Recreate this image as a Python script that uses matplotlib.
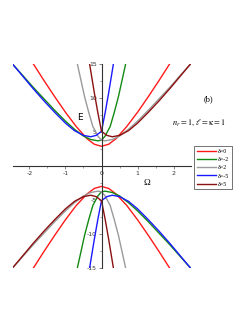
import matplotlib

matplotlib.use("Agg")
import matplotlib.pyplot as plt
from matplotlib.ticker import MultipleLocator

plt.rcParams["axes.unicode_minus"] = False
plt.rcParams["mathtext.fontset"] = "stix"

# upper (positive) and lower (negative) energy branches E(Omega)
labels = ["δ=0", "δ=-2", "δ=2", "δ=-5", "δ=5"]
colors = ["#ff1a1a", "#138a13", "#9a9a9a", "#1a1aff", "#8b1010"]

red_up_w = [-1.89, -1.6, -1.3, -1.0, -0.7, -0.4, -0.2, 0.0, 0.2, 0.4, 0.7, 1.0, 1.3, 1.6, 1.89]
red_up_e = [15.0, 12.6, 10.2, 7.9, 5.8, 4.0, 3.2, 2.9, 3.2, 4.0, 5.8, 7.9, 10.2, 12.6, 15.0]
red_lo_w = [-1.89, -1.6, -1.3, -1.0, -0.7, -0.4, -0.2, 0.0, 0.2, 0.4, 0.7, 1.0, 1.3, 1.6, 1.89]
red_lo_e = [-15.0, -12.6, -10.2, -7.9, -5.8, -4.1, -3.3, -3.0, -3.3, -4.1, -5.8, -7.9, -10.2, -12.6, -15.0]

green_up_w = [-2.47, -2.2, -1.9, -1.6, -1.3, -1.0, -0.75, -0.5, -0.3, -0.1, 0.0, 0.1, 0.24, 0.35, 0.47, 0.57, 0.67]
green_up_e = [15.0, 13.4, 11.6, 9.9, 8.2, 6.6, 5.4, 4.4, 3.9, 3.7, 3.8, 4.4, 5.8, 7.8, 10.2, 12.6, 15.0]
green_lo_w = [-0.67, -0.57, -0.47, -0.35, -0.24, -0.1, 0.0, 0.1, 0.3, 0.5, 0.75, 1.0, 1.3, 1.6, 1.9, 2.2, 2.47]
green_lo_e = [-15.0, -12.6, -10.2, -7.8, -5.8, -4.4, -3.8, -3.7, -3.9, -4.4, -5.4, -6.6, -8.2, -9.9, -11.6, -13.4, -15.0]

grey_up_w = [-0.67, -0.57, -0.47, -0.35, -0.24, -0.1, 0.0, 0.1, 0.3, 0.5, 0.75, 1.0, 1.3, 1.6, 1.9, 2.2, 2.47]
grey_up_e = [15.0, 12.6, 10.2, 7.8, 5.8, 4.4, 3.8, 3.7, 3.9, 4.4, 5.4, 6.6, 8.2, 9.9, 11.6, 13.4, 15.0]
grey_lo_w = [-2.47, -2.2, -1.9, -1.6, -1.3, -1.0, -0.75, -0.5, -0.3, -0.1, 0.0, 0.1, 0.24, 0.35, 0.47, 0.57, 0.67]
grey_lo_e = [-15.0, -13.4, -11.6, -9.9, -8.2, -6.6, -5.4, -4.4, -3.9, -3.7, -3.8, -4.4, -5.8, -7.8, -10.2, -12.6, -15.0]

blue_up_w = [-2.47, -2.2, -1.9, -1.6, -1.3, -1.0, -0.75, -0.5, -0.3, -0.15, 0.0, 0.1, 0.2, 0.33]
blue_up_e = [15.0, 13.3, 11.4, 9.6, 7.9, 6.3, 5.2, 4.5, 4.3, 4.5, 5.1, 7.8, 10.8, 15.0]
blue_lo_w = [-0.33, -0.2, -0.1, 0.0, 0.15, 0.3, 0.5, 0.75, 1.0, 1.3, 1.6, 1.9, 2.2, 2.47]
blue_lo_e = [-15.0, -10.8, -7.8, -5.1, -4.5, -4.3, -4.5, -5.2, -6.3, -7.9, -9.6, -11.4, -13.3, -15.0]

dred_up_w = [-0.33, -0.2, -0.1, 0.0, 0.15, 0.3, 0.5, 0.75, 1.0, 1.3, 1.6, 1.9, 2.2, 2.47]
dred_up_e = [15.0, 10.8, 7.8, 5.1, 4.5, 4.3, 4.5, 5.2, 6.3, 7.9, 9.6, 11.4, 13.3, 15.0]
dred_lo_w = [-2.47, -2.2, -1.9, -1.6, -1.3, -1.0, -0.75, -0.5, -0.3, -0.15, 0.0, 0.1, 0.2, 0.33]
dred_lo_e = [-15.0, -13.3, -11.4, -9.6, -7.9, -6.3, -5.2, -4.5, -4.3, -4.5, -5.1, -7.8, -10.8, -15.0]

curves = [
    (red_up_w, red_up_e, red_lo_w, red_lo_e),
    (green_up_w, green_up_e, green_lo_w, green_lo_e),
    (grey_up_w, grey_up_e, grey_lo_w, grey_lo_e),
    (blue_up_w, blue_up_e, blue_lo_w, blue_lo_e),
    (dred_up_w, dred_up_e, dred_lo_w, dred_lo_e),
]

fig = plt.figure(figsize=(2.49, 3.23), dpi=100)
ax = fig.add_axes([12.5 / 249, 1 - 268 / 323, 178 / 249, 204 / 323])

handles = []
for (uw, ue, lw_, le), col, lab in zip(curves, colors, labels):
    (h,) = ax.plot(uw, ue, color=col, lw=1.0, label=lab)
    ax.plot(lw_, le, color=col, lw=1.0)
    handles.append(h)

ax.set_xlim(-2.47, 2.47)
ax.set_ylim(-15, 15)
for side in ("top", "right"):
    ax.spines[side].set_visible(False)
for side in ("left", "bottom"):
    ax.spines[side].set_position("zero")
    ax.spines[side].set_color("#333333")
    ax.spines[side].set_linewidth(0.8)

ax.set_xticks([-2, -1, 0, 1, 2])
ax.set_yticks([-15, -10, -5, 5, 10, 15])
ax.xaxis.set_minor_locator(MultipleLocator(0.5))
ax.yaxis.set_minor_locator(MultipleLocator(2.5))
ax.tick_params(which="major", length=2, width=0.5, color="#555555", labelsize=4.5,
               labelcolor="#333333", pad=1.5)
ax.tick_params(which="minor", length=1.2, width=0.4, color="#555555")
ax.patch.set_alpha(0)

ax.text(-0.6, 7.2, "E", fontsize=6.5, ha="center", va="center")
ax.text(1.26, -2.5, "Ω", fontsize=6.5, ha="center", va="center", family="Liberation Serif")
fig.text(208 / 249, 1 - 99 / 323, "(b)", fontsize=6, ha="center", va="center",
         family="Liberation Serif")
fig.text(199 / 249, 1 - 123 / 323, r"$n_r = 1,\, \ell = \mathrm{\kappa} = 1$", fontsize=6,
         ha="center", va="center")

leg = fig.legend(handles=handles, loc="upper left", bbox_to_anchor=(191.5 / 249, 1 - 143 / 323),
                 fontsize=4.2, frameon=True, fancybox=False, handlelength=3.2,
                 handletextpad=0.4, labelspacing=0.55, borderpad=0.45,
                 prop={"family": "Liberation Serif", "size": 4.2})
leg.get_frame().set_edgecolor("#333333")
leg.get_frame().set_linewidth(0.6)

fig.savefig("out.png", dpi=100)
